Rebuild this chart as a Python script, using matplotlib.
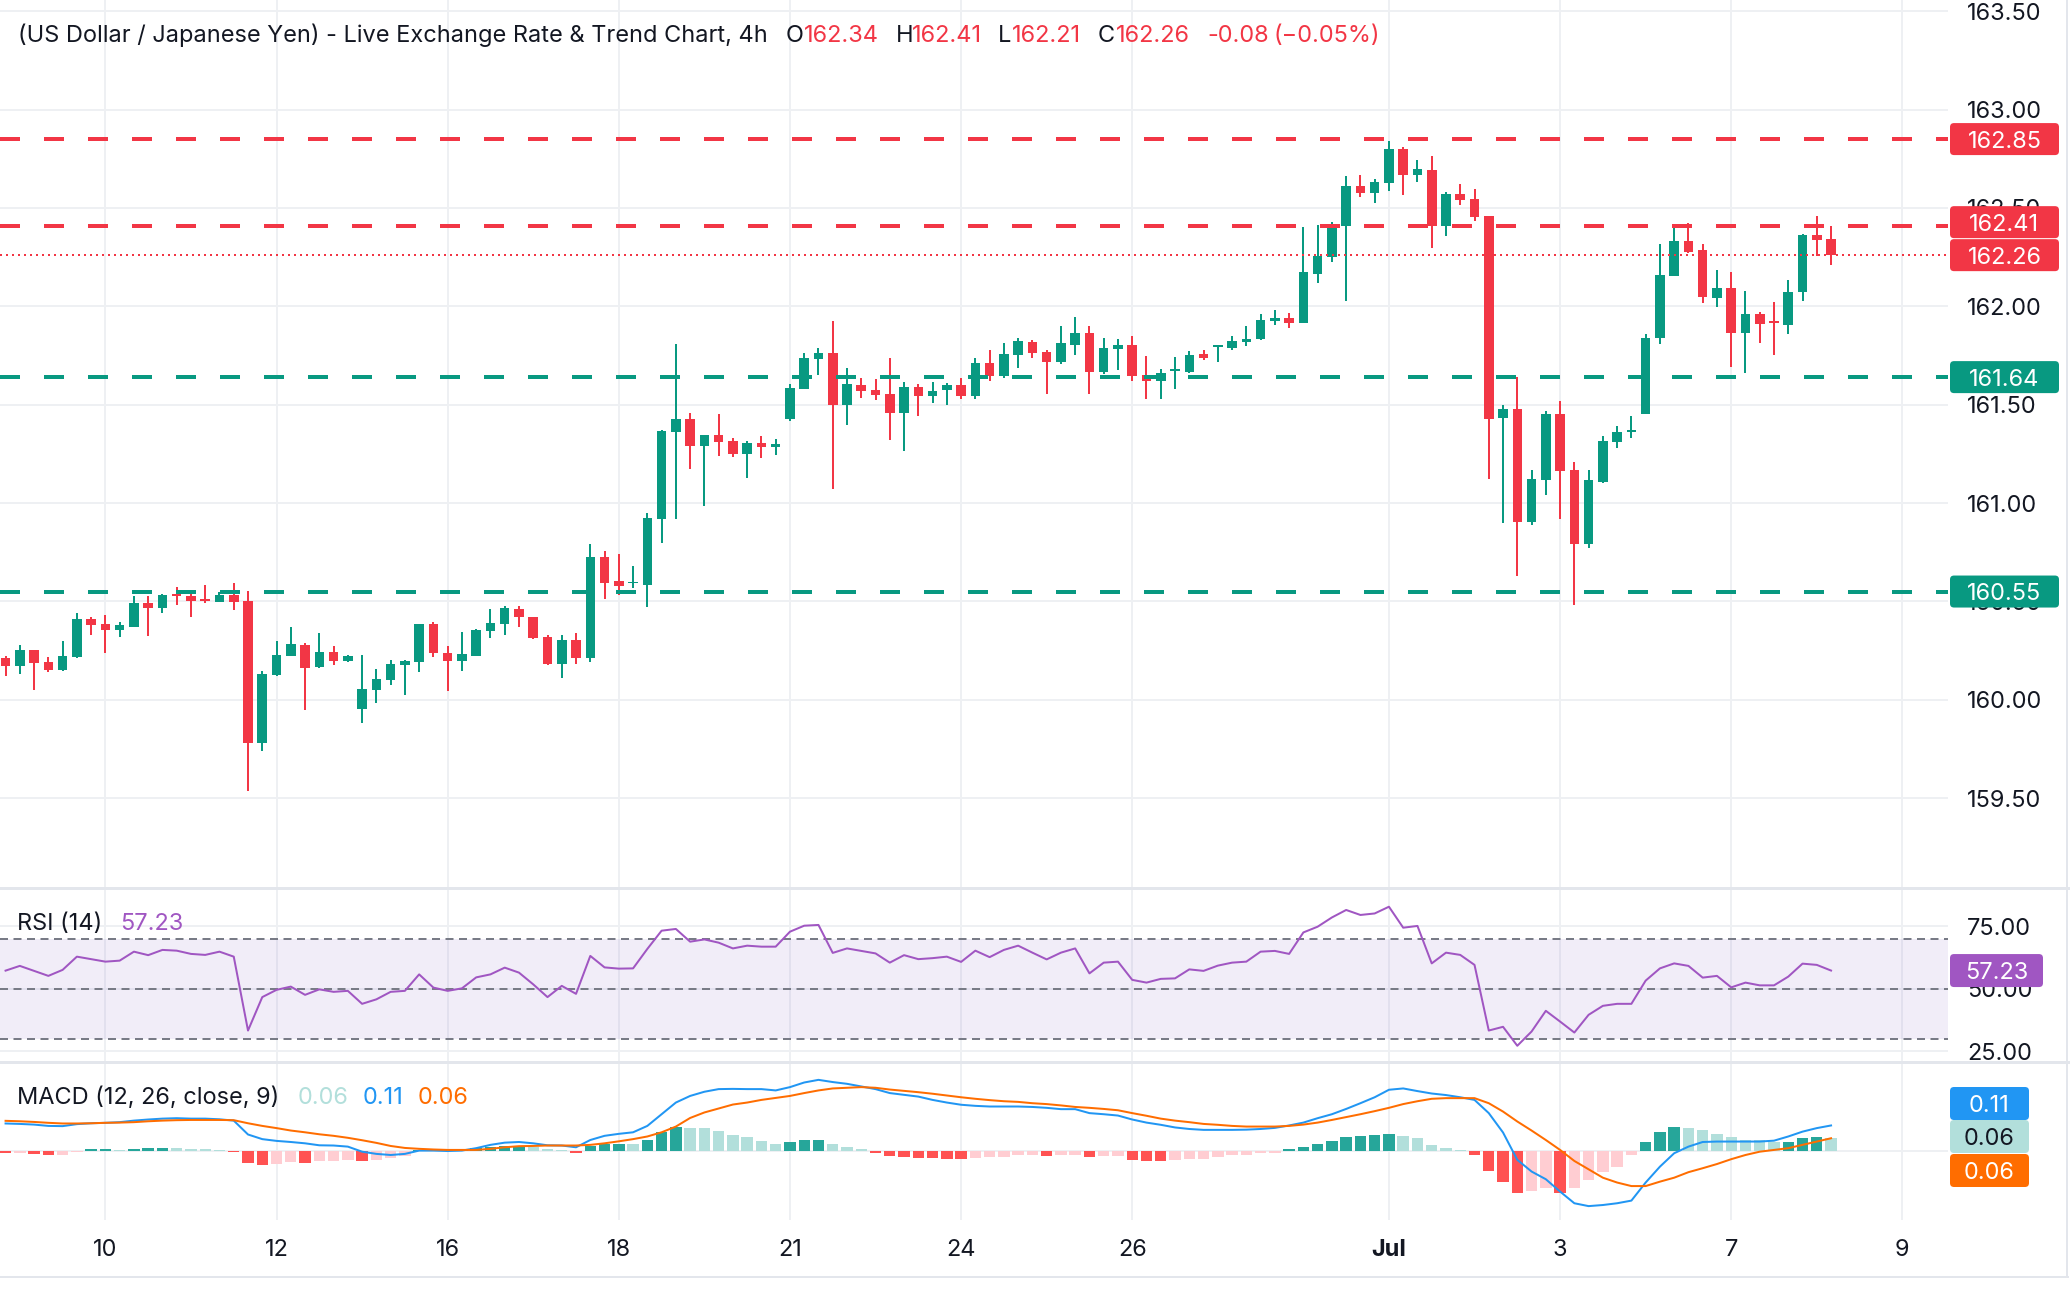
import matplotlib
matplotlib.use('Agg')
import matplotlib.pyplot as plt
from matplotlib.patches import FancyBboxPatch
from matplotlib.lines import Line2D
from matplotlib.transforms import IdentityTransform

plt.rcParams['font.family'] = ['Inter', 'DejaVu Sans']
plt.rcParams['lines.scale_dashes'] = False

# ---------------- data ----------------
opens = [160.212,160.173,160.253,160.192,160.153,160.217,160.410,160.385,160.356,160.370,
         160.492,160.466,160.537,160.527,160.512,160.497,160.532,160.502,159.781,160.126,
         160.222,160.278,160.166,160.242,160.198,159.954,160.051,160.101,160.178,160.193,
         160.384,160.237,160.198,160.223,160.351,160.386,160.461,160.420,160.318,160.183,
         160.303,160.213,160.725,160.603,160.591,160.584,160.920,161.363,161.427,161.291,
         161.346,161.315,161.251,161.305,161.286,161.429,161.581,161.734,161.763,161.500,
         161.600,161.574,161.554,161.459,161.590,161.546,161.574,161.600,161.546,161.712,
         161.647,161.752,161.818,161.768,161.717,161.803,161.864,161.666,161.783,161.803,
         161.651,161.622,161.669,161.666,161.757,161.793,161.789,161.820,161.835,161.927,
         161.940,161.917,162.166,162.252,162.410,162.612,162.578,162.628,162.800,162.669,
         162.693,162.410,162.571,162.545,162.459,161.433,161.477,160.905,161.118,161.452,
         161.167,160.793,161.106,161.310,161.362,161.452,161.839,162.156,162.332,162.286,
         162.044,162.093,161.866,161.961,161.922,161.906,162.072,162.362,162.340]
highs = [160.222,160.278,160.253,160.217,160.298,160.441,160.420,160.431,160.395,160.527,
         160.527,160.537,160.573,160.542,160.583,160.548,160.593,160.553,160.146,160.298,
         160.370,160.288,160.339,160.273,160.227,160.227,160.156,160.201,160.201,160.384,
         160.395,160.273,160.344,160.359,160.461,160.476,160.476,160.420,160.329,160.329,
         160.339,160.791,160.756,160.740,160.680,160.949,161.371,161.808,161.457,161.346,
         161.452,161.330,161.315,161.340,161.325,161.605,161.763,161.788,161.925,161.686,
         161.635,161.630,161.737,161.615,161.605,161.615,161.610,161.635,161.737,161.778,
         161.813,161.839,161.829,161.778,161.900,161.946,161.900,161.839,161.834,161.849,
         161.747,161.681,161.742,161.773,161.778,161.803,161.849,161.900,161.961,161.981,
         161.966,162.403,162.413,162.428,162.662,162.667,162.647,162.840,162.810,162.744,
         162.764,162.581,162.622,162.596,162.459,161.498,161.642,161.167,161.467,161.518,
         161.208,161.167,161.340,161.391,161.442,161.859,162.317,162.403,162.423,162.317,
         162.184,162.174,162.078,161.971,162.022,162.133,162.367,162.459,162.410]
lows = [160.122,160.131,160.049,160.141,160.148,160.214,160.329,160.237,160.319,160.370,
        160.324,160.441,160.481,160.420,160.492,160.497,160.456,159.537,159.741,160.120,
        160.222,159.948,160.161,160.178,160.193,159.883,159.984,160.076,160.025,160.142,
        160.218,160.045,160.147,160.223,160.315,160.330,160.371,160.310,160.178,160.112,
        160.183,160.193,160.513,160.534,160.569,160.473,160.798,160.920,161.174,160.986,
        161.241,161.235,161.129,161.230,161.246,161.418,161.581,161.651,161.073,161.398,
        161.535,161.525,161.322,161.266,161.444,161.510,161.498,161.530,161.530,161.622,
        161.637,161.686,161.737,161.554,161.707,161.752,161.554,161.656,161.676,161.620,
        161.529,161.529,161.579,161.661,161.727,161.717,161.779,161.800,161.830,161.906,
        161.891,161.917,162.120,162.227,162.028,162.557,162.527,162.588,162.567,162.632,
        162.298,162.359,162.517,162.435,161.123,160.900,160.630,160.889,161.042,160.920,
        160.483,160.772,161.101,161.279,161.330,161.452,161.808,162.156,162.272,162.018,
        161.998,161.693,161.662,161.813,161.754,161.861,162.027,162.257,162.210]
closes = [160.173,160.253,160.188,160.153,160.222,160.410,160.381,160.356,160.380,160.492,
          160.466,160.532,160.529,160.502,160.503,160.532,160.497,159.781,160.131,160.227,
          160.283,160.163,160.242,160.198,160.222,160.054,160.105,160.181,160.196,160.384,
          160.239,160.198,160.232,160.354,160.390,160.466,160.422,160.315,160.183,160.303,
          160.213,160.725,160.595,160.579,160.600,160.924,161.366,161.427,161.291,161.346,
          161.312,161.251,161.305,161.286,161.300,161.585,161.737,161.763,161.500,161.605,
          161.571,161.551,161.459,161.590,161.546,161.569,161.600,161.546,161.712,161.647,
          161.757,161.823,161.762,161.717,161.813,161.864,161.666,161.788,161.803,161.645,
          161.620,161.659,161.676,161.752,161.737,161.803,161.823,161.834,161.930,161.940,
          161.917,162.174,162.256,162.413,162.612,162.578,162.632,162.800,162.669,162.698,
          162.410,162.571,162.542,162.456,161.428,161.477,160.905,161.122,161.452,161.164,
          160.793,161.116,161.315,161.361,161.371,161.839,162.159,162.332,162.278,162.049,
          162.093,161.866,161.961,161.911,161.913,162.072,162.362,162.339,162.260]

rsi = [57.2,59.1,57.1,55.1,57.5,62.8,61.8,60.8,61.2,64.8,63.4,65.5,65.2,63.9,63.5,64.8,62.8,33.2,46.6,49.5,
       50.8,47.5,49.7,48.7,49.1,43.9,45.7,48.7,49.1,55.7,50.4,49.1,50.1,54.5,55.7,58.4,56.4,51.7,46.6,51.1,
       47.9,63.1,58.5,58.0,58.1,65.9,73.2,73.9,68.8,69.7,68.4,66.1,67.2,66.8,66.8,72.8,75.2,75.5,64.3,66.1,
       65.1,64.1,60.4,63.4,61.8,62.2,62.8,60.7,65.2,62.6,65.5,67.2,64.4,61.7,64.4,66.1,56.1,60.4,60.8,53.5,
       52.4,53.9,54.1,57.7,57.1,59.2,60.4,60.8,64.8,65.1,63.9,72.5,74.8,78.5,81.5,79.5,80.1,82.8,74.4,75.1,
       60.1,64.4,63.5,59.5,33.2,34.7,27.1,32.8,41.1,36.8,32.4,39.5,43.1,43.9,43.9,53.2,58.1,60.1,59.1,54.4,
       55.1,50.5,52.4,51.3,51.3,54.8,60.0,59.5,57.23]

macd = [0.123,0.121,0.118,0.112,0.111,0.120,0.124,0.126,0.129,0.136,0.141,0.145,0.147,0.145,0.145,0.142,
        0.136,0.073,0.052,0.044,0.039,0.033,0.024,0.023,0.018,-0.005,-0.015,-0.020,-0.015,0.000,0.000,-0.002,
        0.000,0.011,0.026,0.036,0.039,0.033,0.024,0.023,0.015,0.048,0.067,0.076,0.083,0.112,0.165,0.218,
        0.248,0.267,0.279,0.280,0.279,0.279,0.273,0.288,0.309,0.321,0.311,0.303,0.291,0.279,0.261,0.253,
        0.245,0.230,0.218,0.208,0.203,0.200,
        0.200,0.200,0.198,0.194,0.188,0.188,0.170,0.165,0.159,0.141,0.127,0.117,0.105,0.098,0.094,0.094,
        0.094,0.095,0.098,0.103,0.114,0.127,0.147,0.165,0.189,0.215,0.242,0.276,0.282,0.270,0.259,0.252,
        0.242,0.230,0.170,0.082,-0.042,-0.095,-0.130,-0.186,-0.239,-0.252,-0.247,-0.239,-0.227,-0.145,-0.073,
        -0.012,0.018,0.039,0.041,0.041,0.041,0.041,0.045,0.064,0.086,0.102,0.114]
signal = [0.135,0.133,0.130,0.126,0.123,0.123,0.124,0.126,0.127,0.129,0.133,0.136,0.138,0.139,0.139,0.139,
          0.138,0.124,0.112,0.102,0.091,0.083,0.074,0.067,0.058,0.047,0.035,0.021,0.012,0.008,0.005,0.003,
          0.003,0.003,0.008,0.015,0.020,0.021,0.023,0.023,0.023,0.026,0.033,0.042,0.052,0.064,0.083,0.109,
          0.148,0.173,0.191,0.209,0.218,0.230,0.239,0.248,0.261,0.273,0.282,0.285,0.288,0.285,0.277,0.271,
          0.265,0.258,0.250,0.242,0.235,0.229,
          0.224,0.221,0.215,0.211,0.205,0.198,0.194,0.189,0.183,0.170,0.158,0.145,0.136,0.129,0.121,0.117,
          0.112,0.109,0.109,0.109,0.112,0.118,0.127,0.139,0.152,0.165,0.179,0.194,0.211,0.224,0.235,0.238,
          0.238,0.238,0.215,0.177,0.132,0.091,0.048,0.003,-0.047,-0.085,-0.123,-0.145,-0.161,-0.161,-0.141,
          -0.123,-0.098,-0.080,-0.061,-0.039,-0.020,-0.005,0.003,0.011,0.026,0.041,0.056]
hist = [-0.0121,-0.0091,-0.0152,-0.0197,-0.0182,-0.0045,0.0061,0.0076,0.0045,0.0091,0.0106,0.0136,0.0106,
        0.0076,0.0061,0.0045,-0.0061,-0.0545,-0.0652,-0.0606,-0.0500,-0.0545,-0.0470,-0.0455,-0.0424,-0.0455,
        -0.0439,-0.0348,-0.0242,0.0015,0.0012,0.0008,0.0045,0.0106,0.0182,0.0197,0.0212,0.0152,0.0061,0.0045,
        -0.0091,0.0227,0.0303,0.0318,0.0303,0.0485,0.0833,0.1061,0.1045,0.1015,0.0909,0.0712,0.0606,0.0439,
        0.0303,0.0379,0.0485,0.0500,0.0303,0.0182,0.0061,-0.0091,-0.0242,-0.0273,-0.0333,-0.0348,-0.0364,
        -0.0394,-0.0318,-0.0303,-0.0273,-0.0212,-0.0197,-0.0242,-0.0212,-0.0197,-0.0273,-0.0258,-0.0242,
        -0.0424,-0.0455,-0.0470,-0.0424,-0.0379,-0.0364,-0.0303,-0.0212,-0.0197,-0.0121,-0.0091,0.0061,0.0182,
        0.0303,0.0455,0.0636,0.0667,0.0697,0.0758,0.0682,0.0591,0.0258,0.0106,0.0030,-0.0212,-0.0924,-0.1409,
        -0.1909,-0.1818,-0.1712,-0.1909,-0.1712,-0.1333,-0.0955,-0.0727,-0.0212,0.0379,0.0833,0.1061,0.1015,
        0.0939,0.0758,0.0606,0.0500,0.0485,0.0394,0.0409,0.0591,0.0606,0.0576]

levels_red = [162.85, 162.41]
levels_green = [161.64, 160.55]
tick_pos = [7, 19, 31, 43, 55, 67, 79, 97, 109, 121, 133]
tick_lbl = ['10', '12', '16', '18', '21', '24', '26', 'Jul', '3', '7', '9']
price_ticks = [159.5, 160.0, 160.5, 161.0, 161.5, 162.0, 162.5, 163.0, 163.5]
rsi_ticks = [25, 50, 75]
TITLE = '(US Dollar / Japanese Yen) - Live Exchange Rate & Trend Chart, 4h'

# ---------------- style ----------------
W, H, DPI = 2070, 1298, 100
RED, GREEN = '#F23645', '#089981'
DARK = '#131722'
GRID = '#EEF0F3'
SEP = '#E3E6EC'
PURPLE = '#A056C2'
BLUE, ORANGE = '#2196F3', '#FF6D00'
PX = 72.0 / DPI

n = min(len(opens), len(highs), len(lows), len(closes))
xs = list(range(n))

fig = plt.figure(figsize=(W / DPI, H / DPI), dpi=DPI)
fig.patch.set_facecolor('white')

probe = fig.text(0, 0, TITLE, fontsize=10)
fig.canvas.draw()
rend = fig.canvas.get_renderer()
FS = 10 * 750 / probe.get_window_extent(rend).width
probe.remove()


def rect(x0, y0, x1, y1):
    return [x0 / W, 1 - y1 / H, (x1 - x0) / W, (y1 - y0) / H]


XR = 1948
ax = fig.add_axes(rect(0, 0, XR, 888))
axr = fig.add_axes(rect(0, 888, XR, 1062))
axm = fig.add_axes(rect(0, 1062, XR, 1220))
XL = (-0.39, 136.2)

for a in (ax, axr, axm):
    a.set_xlim(*XL)
    for s in a.spines.values():
        s.set_visible(False)
    a.set_xticks(tick_pos)
    a.grid(True, color=GRID, lw=2 * PX, zorder=0)
    a.set_axisbelow(True)
    a.tick_params(length=0)

# ---- main candles ----
ax.set_ylim(159.043, 163.557)
cols = [GREEN if closes[i] >= opens[i] else RED for i in xs]
ax.vlines(xs, lows[:n], highs[:n], colors=cols, lw=2 * PX, zorder=2)
bott = [min(opens[i], closes[i]) for i in xs]
hgt = [max(abs(closes[i] - opens[i]), 0.010) for i in xs]
ax.bar(xs, hgt, bottom=bott, width=0.67, color=cols, lw=0, zorder=3)
for lv in levels_red:
    ax.axhline(lv, color=RED, lw=4 * PX, dashes=(20 * PX, 24 * PX), zorder=4)
for lv in levels_green:
    ax.axhline(lv, color=GREEN, lw=4 * PX, dashes=(20 * PX, 24 * PX), zorder=4)
ax.axhline(closes[-1], color=RED, lw=2 * PX, dashes=(2 * PX, 4 * PX), zorder=4)
ax.yaxis.tick_right()
ax.set_yticks(price_ticks)
ax.set_yticklabels([f'{p:.2f}' for p in price_ticks])
ax.tick_params(axis='y', pad=19 * PX, labelsize=FS, labelcolor=DARK)
ax.tick_params(axis='x', labelbottom=False)

# ---- RSI ----
axr.set_ylim(20.6, 90.3)
axr.axhspan(30, 70, color='#7E57C2', alpha=0.1, lw=0, zorder=1)
for lv in (70, 50, 30):
    axr.axhline(lv, color='#787B86', lw=2 * PX, dashes=(8 * PX, 5.5 * PX), zorder=2)
axr.plot(range(len(rsi)), rsi, color=PURPLE, lw=2 * PX, zorder=3)
axr.yaxis.tick_right()
axr.set_yticks(rsi_ticks)
axr.set_yticklabels([f'{v:.2f}' for v in rsi_ticks])
axr.tick_params(axis='y', pad=19 * PX, labelsize=FS, labelcolor=DARK)
axr.tick_params(axis='x', labelbottom=False)

# ---- MACD ----
axm.set_ylim(-0.315, 0.402)
hcols = []
prev = 0.0
for h in hist:
    if h >= 0:
        hcols.append('#26A69A' if h > prev else '#B2DFDB')
    else:
        hcols.append('#FFCDD2' if h > prev else '#FF5252')
    prev = h
axm.bar(range(len(hist)), hist, width=0.8, color=hcols, lw=0, zorder=2)
axm.plot(range(len(macd)), macd, color=BLUE, lw=2 * PX, zorder=3)
axm.plot(range(len(signal)), signal, color=ORANGE, lw=2 * PX, zorder=3)
axm.set_yticks([0])
axm.tick_params(axis='y', labelleft=False, labelright=False)
axm.set_xticklabels(tick_lbl)
axm.tick_params(axis='x', pad=19 * PX, labelsize=FS, labelcolor=DARK)
for lab in axm.get_xticklabels():
    if lab.get_text() == 'Jul':
        lab.set_fontweight('bold')

# ---- separators / frame ----
for yy in (888, 1062):
    fig.add_artist(Line2D([0, W], [H - yy, H - yy], transform=IdentityTransform(), color=SEP, lw=3 * PX))
fig.add_artist(Line2D([0, 2068], [H - 1277, H - 1277], transform=IdentityTransform(), color=SEP, lw=2 * PX))
fig.add_artist(Line2D([2067, 2067], [H - 1277, H], transform=IdentityTransform(), color=SEP, lw=2 * PX))


# ---- header & legends ----
def ftext(x, y, s, c, **kw):
    return fig.text(x / W, 1 - y / H, s, color=c, fontsize=FS, va='baseline', ha='left', **kw)


chg = closes[-1] - closes[-2]
pct = chg / closes[-2] * 100
pieces = [(18, TITLE, DARK), (786, 'O', DARK), (804, f'{opens[-1]:.2f}', RED),
          (896, 'H', DARK), (912, f'{highs[-1]:.2f}', RED), (998, 'L', DARK),
          (1012, f'{lows[-1]:.2f}', RED), (1098, 'C', DARK), (1116, f'{closes[-1]:.2f}', RED),
          (1207, f'{chg:.2f}', RED), (1274, f'({pct:.2f}%)'.replace('-', '\u2212'), RED)]
for x, s, c in pieces:
    ftext(x, 41.7, s, c)

ftext(17, 930, 'RSI (14)', DARK)
ftext(120, 930, f'{rsi[-1]:.2f}', PURPLE)
ftext(17, 1104, 'MACD (12, 26, close, 9)', DARK)
ftext(298, 1104, f'{hist[-1]:.2f}', '#B2DFDB')
ftext(363, 1104, f'{macd[-1]:.2f}', BLUE)
ftext(418, 1104, f'{signal[-1]:.2f}', ORANGE)


# ---- axis value boxes ----
def vbox(x0, x1, yc, h, fc, s, tc):
    p = FancyBboxPatch((x0, H - yc - h / 2), x1 - x0, h, boxstyle='round,pad=0,rounding_size=4',
                       fc=fc, ec='none', transform=IdentityTransform(), zorder=5)
    fig.add_artist(p)
    fig.text((x0 + x1) / 2 / W, 1 - yc / H, s, color=tc, fontsize=FS, ha='center',
             va='center_baseline', zorder=6)


def ypix(a, v):
    return H - a.transData.transform((0, v))[1]


BH = 32
items = [(lv, RED) for lv in levels_red] + [(closes[-1], RED)] + [(lv, GREEN) for lv in levels_green]
items.sort(key=lambda t: -t[0])
ys = [ypix(ax, v) for v, _ in items]
for k in range(len(ys) - 2, -1, -1):
    if ys[k + 1] - ys[k] < BH + 1:
        ys[k] = ys[k + 1] - BH - 1
for (v, c), yc in zip(items, ys):
    vbox(1950, 2059, yc, BH, c, f'{v:.2f}', 'white')

vbox(1950, 2043, ypix(axr, rsi[-1]), 33, PURPLE, f'{rsi[-1]:.2f}', 'white')
vbox(1950, 2029, 1103.5, 33, BLUE, f'{macd[-1]:.2f}', 'white')
vbox(1950, 2029, 1136.5, 33, '#B2DFDB', f'{hist[-1]:.2f}', DARK)
vbox(1950, 2029, 1170.5, 33, ORANGE, f'{signal[-1]:.2f}', 'white')

fig.savefig('out.png', dpi=DPI, facecolor='white')
